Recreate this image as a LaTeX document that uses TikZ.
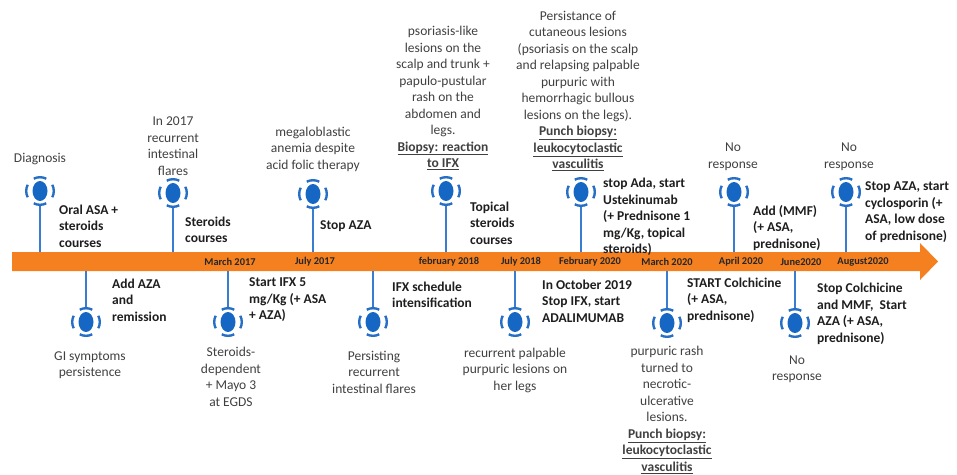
\documentclass[tikz,border=0pt]{standalone}
\usepackage{fontspec}
\setmainfont{Carlito}
\usetikzlibrary{calc}

\definecolor{barorange}{RGB}{245,128,32}
\definecolor{stemblue}{RGB}{58,124,208}
\definecolor{dotblue}{RGB}{22,102,196}
\definecolor{ringblue}{RGB}{38,110,198}
\definecolor{txtgray}{RGB}{64,64,64}
\definecolor{txtdark}{RGB}{30,30,30}

\begin{document}
\begin{tikzpicture}[x=1pt, y=-1pt,
    every node/.style={inner sep=0pt},
    dot/.style={circle, minimum size=30pt,
        path picture={\fill[dotblue] (path picture bounding box.center) ellipse [x radius=7.5pt, y radius=10pt];}},
    ring/.style={draw=ringblue, line width=2.4pt},
    stem/.style={draw=stemblue, line width=1.8pt},
    note/.style={font=\fontsize{13.5}{16.5}\selectfont, text=txtgray, align=center},
    act/.style={font=\fontsize{13.5}{16.5}\selectfont\bfseries, text=txtdark, align=left, anchor=west},
    date/.style={font=\fontsize{10.4}{12}\selectfont\bfseries, text=black!85}]
    \useasboundingbox (0,0) rectangle (957,474);

    % The timeline bar
    \fill[barorange] (12,252) -- (920,252) -- (920,243) -- (938,261.5) -- (920,280) -- (920,271) -- (12,271) -- cycle;
    \coordinate (bartop) at (0,252);
    \coordinate (barbot) at (0,271);

    % Dates on the bar
    \node[date] (d1) at (230,262) {March 2017};
    \node[date] (d2) at (315,262) {July 2017};
    \node[date] (d3) at (449,262) {february 2018};
    \node[date] (d4) at (521,262) {July 2018};
    \node[date] (d5) at (590,262) {February 2020};
    \node[date] (d6) at (667,262) {March 2020};
    \node[date] (d7) at (741,262) {April 2020};
    \node[date] (d8) at (801,262) {June2020};
    \node[date] (d9) at (863,262) {August2020};

    % Events above the bar
    \node[dot] (u1) at (40,191) {};
    \node[dot] (u2) at (173,193) {};
    \node[dot] (u3) at (313,194) {};
    \node[dot] (u4) at (446,191) {};
    \node[dot] (u5) at (581,192) {};
    \node[dot] (u6) at (734,192) {};
    \node[dot] (u7) at (846,192) {};
    \foreach \n in {u1,u2,u3,u4,u5,u6,u7}
        \draw[stem] (\n.south) -- (\n.south |- bartop);

    \node[note] (u1t) at (40,159) {Diagnosis};
    \node[act] (u1a) at (59,226) {Oral ASA +\\steroids\\courses};
    \node[note] (u2t) at (173,146) {In 2017\\recurrent\\intestinal\\flares};
    \node[act] (u2a) at (185,230) {Steroids\\courses};
    \node[note] (u3t) at (313,149) {megaloblastic\\anemia despite\\acid folic therapy};
    \node[act] (u3a) at (320,226) {Stop AZA};
    \node[note] (u4t) at (443,98) {psoriasis-like\\lesions on the\\scalp and trunk +\\papulo-pustular\\rash on the\\abdomen and\\legs.\\\textbf{\underline{Biopsy: reaction}}\\\textbf{\underline{to IFX}}};
    \node[act] (u4a) at (470,223) {Topical\\steroids\\courses};
    \node[note] (u5t) at (578,91) {Persistance of\\cutaneous lesions\\(psoriasis on the scalp\\and relapsing palpable\\purpuric with\\hemorrhagic bullous\\lesions on the legs).\\\textbf{\underline{Punch biopsy:}}\\\textbf{\underline{leukocytoclastic}}\\\textbf{\underline{vasculitis}}};
    \node[act] (u5a) at (603,217) {stop Ada, start\\Ustekinumab\\(+ Prednisone 1\\mg/Kg, topical\\steroids)};
    \node[note] (u6t) at (733,157) {No\\response};
    \node[act] (u6a) at (753,228) {Add (MMF)\\(+ ASA,\\prednisone)};
    \node[note] (u7t) at (849,157) {No\\response};
    \node[act] (u7a) at (865,212) {Stop AZA, start\\cyclosporin (+\\ASA, low dose\\of prednisone)};

    % Events below the bar
    \node[dot] (l1) at (86,322) {};
    \node[dot] (l2) at (228,322) {};
    \node[dot] (l3) at (373,322) {};
    \node[dot] (l4) at (515,322) {};
    \node[dot] (l5) at (667,323) {};
    \node[dot] (l6) at (795,323) {};
    \foreach \n in {l1,l2,l3,l4,l5,l6}
        \draw[stem] (\n.north |- barbot) -- (\n.north);

    % Dashed rings round the dots
    \foreach \n in {u1,u2,u3,u4,u5,u6,u7,l1,l2,l3,l4,l5,l6}
        \foreach \a in {0,90,180,270}
            \draw[ring] ($(\n.center)+(\a-27:13.8)$) arc[start angle=\a-27, end angle=\a+27, radius=13.8];

    \node[act] (l1a) at (112,300) {Add AZA\\and\\remission};
    \node[note] (l1t) at (90,365) {GI symptoms\\persistence};
    \node[act] (l2a) at (249,300) {Start IFX 5\\mg/Kg (+ ASA\\+ AZA)};
    \node[note] (l2t) at (231,377) {Steroids-\\dependent\\+ Mayo 3\\at EGDS};
    \node[act] (l3a) at (392,295) {IFX schedule\\intensification};
    \node[note] (l3t) at (374,372) {Persisting\\recurrent\\intestinal flares};
    \node[act] (l4a) at (542,301) {In October 2019\\Stop IFX, start\\ADALIMUMAB};
    \node[note] (l4t) at (515,370) {recurrent palpable\\purpuric lesions on\\her legs};
    \node[act] (l5a) at (687,300) {START Colchicine\\(+ ASA,\\prednisone)};
    \node[note] (l5t) at (667,410) {purpuric rash\\turned to\\necrotic-\\ulcerative\\lesions.\\\textbf{\underline{Punch biopsy:}}\\\textbf{\underline{leukocytoclastic}}\\\textbf{\underline{vasculitis}}};
    \node[act] (l6a) at (817,314) {Stop Colchicine\\and MMF,~ Start\\AZA (+ ASA,\\prednisone)};
    \node[note] (l6t) at (797,369) {No\\response};
\end{tikzpicture}
\end{document}
